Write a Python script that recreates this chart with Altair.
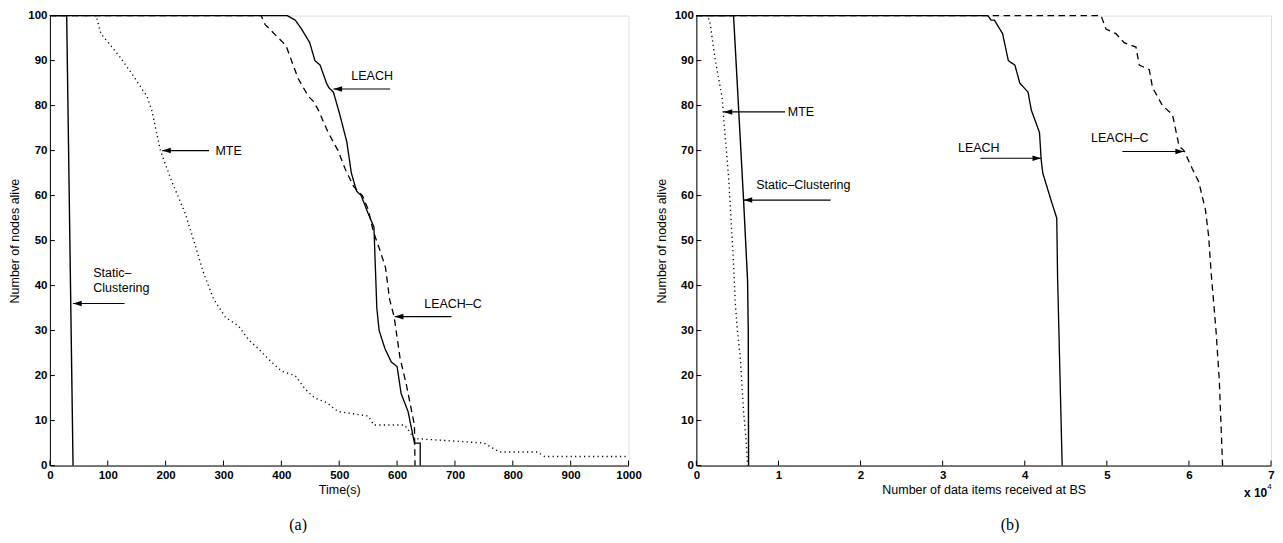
import altair as alt
import pandas as pd

# ---------------- data: panel (a) -- nodes alive vs time ----------------
SERIES = ["Static-Clustering", "MTE", "LEACH", "LEACH-C"]

STATIC_A_T = [0, 29, 40]
STATIC_A_N = [100, 100, 0]

MTE_A_T = [0, 80, 88, 120, 142, 168, 176, 191, 211, 234, 251, 265, 283, 303, 326, 343, 360, 383,
           400, 424, 441, 458, 478, 498, 550, 560, 613, 630, 750, 777, 843, 855, 1000]
MTE_A_N = [100, 100, 96, 91, 87, 82, 79, 70, 63, 56, 49, 43, 37, 33, 31, 28, 26, 23,
           21, 20, 17, 15, 14, 12, 11, 9, 9, 6, 5, 3, 3, 2, 2]

LEACH_A_T = [0, 410, 424, 435, 449, 458, 467, 478, 482, 490, 501, 513, 521, 530, 538, 550, 560, 565,
             569, 579, 590, 600, 607, 619, 630, 640, 640]
LEACH_A_N = [100, 100, 99, 97, 94, 90, 89, 85, 84, 83, 78, 72, 65, 61, 60, 56, 53, 35,
             30, 26, 23, 22, 16, 12, 5, 5, 0]

LEACHC_A_T = [0, 365, 372, 403, 409, 429, 447, 455, 464, 481, 498, 510, 525, 540, 550, 559, 570, 580,
              587, 595, 605, 616, 630, 631]
LEACHC_A_N = [100, 100, 98, 94, 93, 86, 82, 81, 79, 74, 70, 66, 62, 60, 57, 52, 48, 44,
              37, 33, 24, 18, 9, 0]

# ---------------- data: panel (b) -- nodes alive vs data items (x 10^4) ----------------
STATIC_B_X = [0, 0.453, 0.575, 0.624, 0.632, 0.636]
STATIC_B_N = [100, 100, 59, 41, 30, 0]

MTE_B_X = [0, 0.12, 0.162, 0.231, 0.312, 0.352, 0.393, 0.434, 0.455, 0.474, 0.50, 0.535, 0.555,
           0.575, 0.604, 0.624]
MTE_B_N = [100, 100, 99, 90, 82, 73, 64, 51, 44, 36, 30, 24, 18, 12, 6, 0]

LEACH_B_X = [0, 3.55, 3.59, 3.63, 3.73, 3.80, 3.88, 3.94, 4.04, 4.08, 4.18, 4.20, 4.22, 4.32,
             4.39, 4.40, 4.456]
LEACH_B_N = [100, 100, 99, 99, 96, 90, 89, 85, 83, 79, 74, 68, 65, 59, 55, 42, 0]

LEACHC_B_X = [0, 4.93, 4.99, 5.11, 5.21, 5.355, 5.395, 5.517, 5.557, 5.678, 5.80, 5.88, 5.94,
              6.04, 6.12, 6.20, 6.24, 6.27, 6.33, 6.37, 6.41]
LEACHC_B_N = [100, 100, 97, 96, 94, 93, 89, 88, 84, 80, 78, 71, 70, 66, 63, 57, 51, 43, 30, 19, 0]

# ---------------- axes ----------------
Y_TICKS = [0, 10, 20, 30, 40, 50, 60, 70, 80, 90, 100]
XA_TICKS = [0, 100, 200, 300, 400, 500, 600, 700, 800, 900, 1000]
XB_TICKS = [0, 1, 2, 3, 4, 5, 6, 7]

# ---------------- annotations ----------------
ANN_A_TEXT = ["LEACH", "MTE", "Static\u2013", "Clustering", "LEACH\u2013C"]
ANN_A_X = [521, 286, 75, 75, 647]
ANN_A_Y = [86.5, 70, 42.7, 39.5, 36]
ARR_A_TAIL = [588, 275, 129, 694]
ARR_A_HEAD = [490, 194, 40, 596]
ARR_A_Y = [83.7, 70, 36, 33.1]

ANN_B_TEXT = ["MTE", "Static\u2013Clustering", "LEACH", "LEACH\u2013C"]
ANN_B_X = [1.114, 0.729, 3.187, 4.808]
ANN_B_Y = [78.6, 62.4, 70.5, 72.7]
ARR_B_TAIL = [1.081, 1.636, 3.459, 5.19]
ARR_B_HEAD = [0.332, 0.575, 4.20, 5.94]
ARR_B_Y = [78.6, 59, 68.3, 69.8]

FONT = "Liberation Sans"
W_A, W_B, H = 580, 576, 451


def series_df(xs_list, ns_list):
    rows = []
    for name, xs, ns in zip(SERIES, xs_list, ns_list):
        for i, (x, n) in enumerate(zip(xs, ns)):
            rows.append({"series": name, "x": x, "n": n, "i": i})
    return pd.DataFrame(rows)


def panel(df, xdomain, xticks, xtitle, width, ann, arrows, caption, caption_x, extra=None):
    xs = alt.Scale(domain=xdomain, nice=False, zero=False)
    ys = alt.Scale(domain=[0, 100], nice=False)
    x_axis = alt.Axis(values=xticks, format="d", ticks=False, grid=False, domainColor="black",
                      domainWidth=1, labelFont=FONT, labelFontSize=11.5, labelFontWeight="bold",
                      labelColor="black", labelPadding=4, title=xtitle, titleFont=FONT,
                      titleFontSize=12.5, titleFontWeight="normal", titleColor="black",
                      titlePadding=3, labelFlush=False)
    y_axis = alt.Axis(values=Y_TICKS, format="d", ticks=False, grid=False, domainColor="black",
                      domainWidth=1, labelFont=FONT, labelFontSize=11.5, labelFontWeight="bold",
                      labelColor="black", labelPadding=3, title="Number of nodes alive",
                      titleFont=FONT, titleFontSize=12.5, titleFontWeight="normal",
                      titleColor="black", titlePadding=6)

    def X(field):
        return alt.X(field, scale=xs, axis=x_axis)

    def Y(field):
        return alt.Y(field, scale=ys, axis=y_axis)

    lines = alt.Chart(df).mark_line(color="black", strokeCap="butt").encode(
        x=X("x:Q"),
        y=Y("n:Q"),
        detail="series:N",
        order=alt.Order("i:Q"),
        strokeDash=alt.StrokeDash("series:N", scale=alt.Scale(
            domain=SERIES, range=[[1, 0], [1.2, 3.3], [1, 0], [6.5, 4.5]]), legend=None),
        size=alt.Size("series:N", scale=alt.Scale(domain=SERIES, range=[1.4, 1.3, 1.4, 1.4]),
                      legend=None),
    )

    xt = pd.DataFrame({"x": xticks})
    yt = pd.DataFrame({"n": Y_TICKS})
    xtick_layer = alt.Chart(xt).mark_rule(color="black", strokeWidth=1).encode(
        x=X("x:Q"), y=alt.value(H), y2=alt.value(H - 5))
    ytick_layer = alt.Chart(yt).mark_rule(color="black", strokeWidth=1).encode(
        y=Y("n:Q"), x=alt.value(0), x2=alt.value(5))

    ann_df = pd.DataFrame({"t": ann[0], "x": ann[1], "n": ann[2]})
    txt = alt.Chart(ann_df).mark_text(align="left", baseline="middle", font=FONT, fontSize=12.5,
                                      color="black").encode(
        x=X("x:Q"), y=Y("n:Q"), text="t:N")

    arr_df = pd.DataFrame({"x": arrows[0], "head": arrows[1], "n": arrows[2]})
    shafts = alt.Chart(arr_df).mark_rule(color="black", strokeWidth=1.1).encode(
        x=X("x:Q"), x2="head:Q", y=Y("n:Q"))
    arr_df["dirn"] = ["L" if h < t else "R" for t, h in zip(arrows[0], arrows[1])]
    heads_df = arr_df[["head", "n", "dirn"]].rename(columns={"head": "x"})
    heads_l = alt.Chart(heads_df).transform_filter(alt.datum.dirn == "L").mark_point(
        shape="M0,0L1,-0.32L1,0.32Z", filled=True, color="black", opacity=1, size=300).encode(
        x=X("x:Q"), y=Y("n:Q"))
    heads_r = alt.Chart(heads_df).transform_filter(alt.datum.dirn == "R").mark_point(
        shape="M0,0L-1,-0.32L-1,0.32Z", filled=True, color="black", opacity=1, size=300).encode(
        x=X("x:Q"), y=Y("n:Q"))

    cap_df = pd.DataFrame({"t": [caption], "x": [caption_x]})
    cap = alt.Chart(cap_df).mark_text(align="center", baseline="middle", font="Liberation Serif",
                                      fontSize=16, color="black").encode(
        x=X("x:Q"), y=alt.value(H + 60), text="t:N")

    layers = [lines, xtick_layer, ytick_layer, shafts, heads_l, heads_r, txt, cap]
    if extra is not None:
        layers += extra(X)
    return alt.layer(*layers).properties(width=width, height=H)


def sci_note(X):
    d1 = pd.DataFrame({"t": ["x 10"], "x": [6.67]})
    d2 = pd.DataFrame({"t": ["4"], "x": [6.955]})
    a = alt.Chart(d1).mark_text(align="left", baseline="middle", font=FONT, fontSize=12,
                                fontWeight="bold", color="black").encode(
        x=X("x:Q"), y=alt.value(H + 28), text="t:N")
    b = alt.Chart(d2).mark_text(align="left", baseline="middle", font=FONT, fontSize=8,
                                color="black").encode(
        x=X("x:Q"), y=alt.value(H + 22), text="t:N")
    return [a, b]


df_a = series_df([STATIC_A_T, MTE_A_T, LEACH_A_T, LEACHC_A_T],
                 [STATIC_A_N, MTE_A_N, LEACH_A_N, LEACHC_A_N])
df_b = series_df([STATIC_B_X, MTE_B_X, LEACH_B_X, LEACHC_B_X],
                 [STATIC_B_N, MTE_B_N, LEACH_B_N, LEACHC_B_N])

left = panel(df_a, [0, 1000], XA_TICKS, "Time(s)", W_A,
             (ANN_A_TEXT, ANN_A_X, ANN_A_Y), (ARR_A_TAIL, ARR_A_HEAD, ARR_A_Y), "(a)", 429)
right = panel(df_b, [0, 7], XB_TICKS, "Number of data items received at BS", W_B,
              (ANN_B_TEXT, ANN_B_X, ANN_B_Y), (ARR_B_TAIL, ARR_B_HEAD, ARR_B_Y), "(b)", 3.82,
              extra=sci_note)

chart = alt.hconcat(left, right, spacing=12).properties(
    padding={"left": 0, "top": 0, "right": 0, "bottom": 0}
).configure_view(stroke=None).configure(background="white")

chart.save("out.html", embed_options={"renderer": "svg", "actions": False})
